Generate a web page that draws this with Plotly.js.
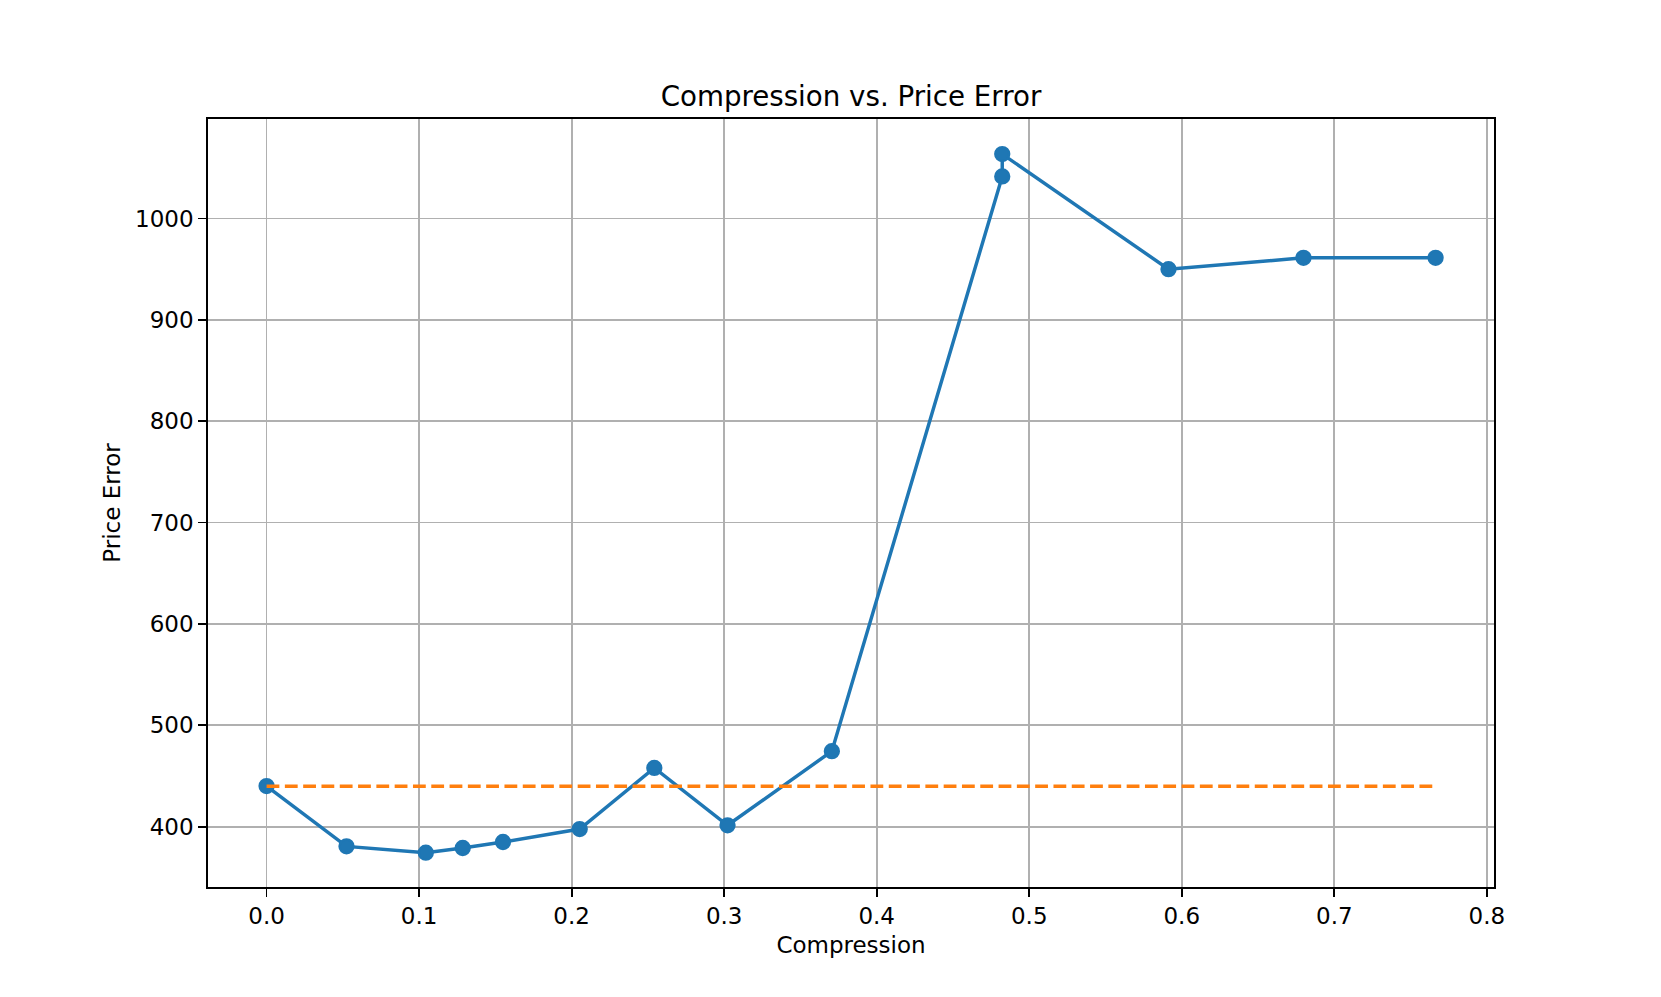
<!DOCTYPE html>
<html>
<head>
<meta charset="utf-8">
<script src="https://cdn.plot.ly/plotly-3.0.1.min.js"></script>
<style>html,body{margin:0;padding:0;background:#fff;}#chart{width:1661px;height:997px;}</style>
</head>
<body>
<div id="chart"></div>
<script>
const compression = [0.0, 0.0524, 0.1044, 0.1286, 0.155, 0.2053, 0.2542, 0.3022, 0.3706, 0.4823, 0.4823, 0.5913, 0.6798, 0.7664];
const priceError = [440, 380.5, 374.3, 378.9, 384.8, 397.6, 457.9, 401.3, 474.4, 1041.5, 1063.6, 950.0, 961.2, 961.2];
const baselineX = [0.0, 0.7664];
const baselineY = [439.8, 439.8];
const xTicks = [0.0, 0.1, 0.2, 0.3, 0.4, 0.5, 0.6, 0.7, 0.8];
const yTicks = [400, 500, 600, 700, 800, 900, 1000];

const font = 'DejaVu Sans, sans-serif';
const traces = [
  {x: compression, y: priceError, type: 'scatter', mode: 'lines+markers',
   line: {color: '#1f77b4', width: 3.46},
   marker: {color: '#1f77b4', size: 14, line: {color: '#1f77b4', width: 2.3}}, showlegend: false},
  {x: baselineX, y: baselineY, type: 'scatter', mode: 'lines',
   line: {color: '#ff7f0e', width: 3.46, dash: '12.8px,5.5px'}, showlegend: false}
];
const axisCommon = {
  showline: true, mirror: true, linecolor: '#000', linewidth: 1.85,
  showgrid: true, gridcolor: '#b0b0b0', gridwidth: 1.85, zeroline: false,
  ticks: 'outside', ticklen: 8, tickwidth: 1.85, tickcolor: '#000',
  tickfont: {family: font, size: 23, color: '#000'}
};
const layout = {
  width: 1661, height: 997,
  paper_bgcolor: '#fff', plot_bgcolor: '#fff',
  margin: {l: 208, r: 167, t: 119, b: 110},
  font: {family: font, color: '#000'},
  title: {text: 'Compression vs. Price Error', font: {family: font, size: 27.7, color: '#000'},
          x: 0.5, xref: 'paper', xanchor: 'center', y: 1 - 96/997, yref: 'container', yanchor: 'middle'},
  xaxis: Object.assign({}, axisCommon, {
    range: [-0.0384, 0.8047], tickvals: xTicks, ticktext: xTicks.map(v => v.toFixed(1)),
    title: {text: 'Compression', font: {family: font, size: 23, color: '#000'}, standoff: 8},
    automargin: false
  }),
  yaxis: Object.assign({}, axisCommon, {
    range: [340.4, 1098.2], tickvals: yTicks, ticktext: yTicks.map(v => String(v)),
    title: {text: 'Price Error', font: {family: font, size: 23, color: '#000'}, standoff: 8},
    automargin: false
  })
};
Plotly.newPlot('chart', traces, layout, {displayModeBar: false, staticPlot: true});
</script>
</body>
</html>
